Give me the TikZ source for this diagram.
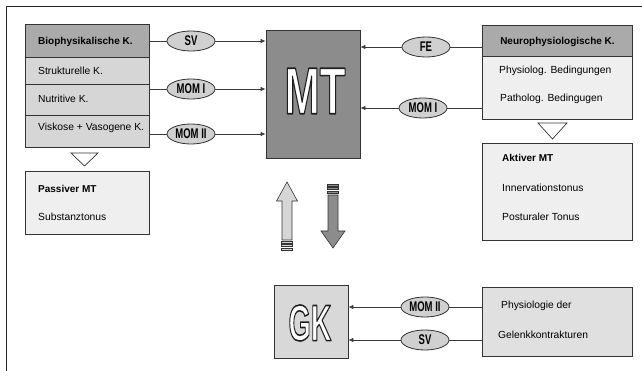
\documentclass[tikz,border=0pt]{standalone}
\usepackage{fontspec}
\usepackage{graphicx}
\setmainfont{Liberation Sans}
\usetikzlibrary{shapes.geometric,arrows.meta,calc}
\definecolor{hdr}{HTML}{AAAAAA}
\definecolor{row}{HTML}{D6D6D6}
\definecolor{mtgray}{HTML}{8C8C8C}
\definecolor{ellg}{HTML}{D0D0D0}
\definecolor{pale}{HTML}{EFEFEF}
\definecolor{gkg}{HTML}{D8D8D8}
\definecolor{edge}{HTML}{333333}
\definecolor{conn}{HTML}{3A3A3A}
\newcommand\outlinedtext[3]{%
  \special{pdf:literal direct 0.12 G 1.6 w 1 j 2 Tr}\scalebox{#1}[1]{\fontsize{#2}{#2}\selectfont\bfseries #3}\special{pdf:literal direct 0 Tr}}
\newcommand\ovtxt[1]{\scalebox{0.68}[1]{\fontsize{14}{14}\selectfont\bfseries #1}}
\begin{document}
\begin{tikzpicture}[x=1pt,y=-1pt,
  box/.style={draw=edge,line width=0.8pt,rectangle,inner sep=0pt},
  lbl/.style={anchor=west,inner sep=0pt,font=\fontsize{10.3}{12}\selectfont},
  blbl/.style={anchor=west,inner sep=0pt,font=\fontsize{10}{12}\selectfont\bfseries},
  oval/.style={draw=edge,line width=0.8pt,ellipse,fill=ellg,minimum width=48pt,minimum height=20pt,inner sep=0pt},
  bigtxt/.style={inner sep=0pt,text=white},
  conn/.style={draw=conn,line width=0.8pt},
  arr/.style={conn,-{Latex[length=5pt,width=4.5pt]}},
  tri/.style={draw=edge,line width=0.7pt,fill=white},
  blk/.style={draw=edge,line width=0.6pt}]
\useasboundingbox (0,0) rectangle (642,371);
% frame
\draw[line width=1pt,black!85] (6.5,380) -- (6.5,7) -- (650,7);

% left stack
\node[box,fill=hdr,minimum width=124pt,minimum height=33pt] (bhead) at (87,40.5) {};
\node[box,fill=row,minimum width=124pt,minimum height=27pt] (brow1) at (87,70.5) {};
\node[box,fill=row,minimum width=124pt,minimum height=31pt] (brow2) at (87,99.5) {};
\node[box,fill=row,minimum width=124pt,minimum height=32pt] (brow3) at (87,131) {};
\node[blbl] (tbio) at (38,42) {Biophysikalische K.};
\node[lbl] (tstr) at (38,71) {Strukturelle K.};
\node[lbl] (tnut) at (38,99) {Nutritive K.};
\node[lbl] (tvis) at (38,128) {Viskose + Vasogene K.};

% passiver
\draw[tri] (71,153) -- (98,153) -- (84.5,166) -- cycle;
\node[box,fill=pale,minimum width=124pt,minimum height=63pt] (pass) at (87,202.5) {};
\node[blbl] (tpass) at (38,189) {Passiver MT};
\node[lbl] (tsub) at (38,217) {Substanztonus};

% MT
\node[box,fill=mtgray,minimum width=94pt,minimum height=128pt] (mt) at (313,94) {};
\node[bigtxt] (mttxt) at (315,91) {\outlinedtext{0.64}{66}{MT}};

% left ovals
\node[oval] (sv1) at (191,41) {\ovtxt{SV}};
\node[oval] (mom1) at (191,89) {\ovtxt{MOM I}};
\node[oval] (mom2) at (191,134) {\ovtxt{MOM II}};
\draw[conn] (bhead.east |- sv1) -- (sv1);
\draw[arr] (sv1) -- (mt.west |- sv1);
\draw[conn] (brow2.east |- mom1) -- (mom1);
\draw[arr] (mom1) -- (mt.west |- mom1);
\draw[conn] (brow3.east |- mom2) -- (mom2);
\draw[arr] (mom2) -- (mt.west |- mom2);

% right neuro
\node[box,fill=hdr,minimum width=150pt,minimum height=31pt] (nhead) at (557,40.5) {};
\node[box,fill=pale,minimum width=150pt,minimum height=63pt] (nbody) at (557,87.5) {};
\node[inner sep=0pt,font=\fontsize{10}{12}\selectfont\bfseries] (tneu) at (557.5,42) {Neurophysiologische K.};
\node[lbl] (tphy) at (499,71) {Physiolog. Bedingungen};
\node[lbl] (tpat) at (500,99) {Patholog. Bedingugen};
\node[oval] (fe) at (426,47) {\ovtxt{FE}};
\node[oval] (mom1r) at (423,108) {\ovtxt{MOM I}};
\draw[conn] (nhead.west |- fe) -- (fe);
\draw[arr] (fe) -- (mt.east |- fe);
\draw[conn] (nbody.west |- mom1r) -- (mom1r);
\draw[arr] (mom1r) -- (mt.east |- mom1r);

% aktiver
\draw[tri] (538,123) -- (567,123) -- (552.5,139) -- cycle;
\node[box,fill=pale,minimum width=150pt,minimum height=97pt] (akt) at (557,191.5) {};
\node[blbl] (takt) at (502,158) {Aktiver MT};
\node[lbl] (tinn) at (502,188) {Innervationstonus};
\node[lbl] (tpos) at (502,217) {Posturaler Tonus};

% block arrows
\draw[blk,fill=row] (287,182) -- (297.5,201) -- (292,201) -- (292,240) -- (282,240) -- (282,201) -- (276.5,201) -- cycle;
\foreach \y in {241,244.5,248}{\draw[blk,fill=row] (281.5,\y) rectangle (292.5,\y+2.2);}
\draw[blk,fill=mtgray] (333,248) -- (345,231) -- (338,231) -- (338,195) -- (328,195) -- (328,231) -- (321,231) -- cycle;
\foreach \y in {184,187.5,191}{\draw[blk,fill=mtgray] (327.5,\y) rectangle (338.5,\y+2.2);}

% GK
\node[box,fill=gkg,minimum width=74pt,minimum height=73pt] (gk) at (311,321.5) {};
\node[bigtxt] (gktxt) at (310,323) {\outlinedtext{0.56}{51}{GK}};
\node[box,fill=gkg!80!white,minimum width=150pt,minimum height=69pt] (phys) at (557,321.5) {};
\node[lbl] (tphd) at (501,306) {Physiologie der};
\node[lbl] (tgel) at (498,335) {Gelenkkontrakturen};
\node[oval] (mom2g) at (425,307) {\ovtxt{MOM II}};
\node[oval] (svg) at (425,340) {\ovtxt{SV}};
\draw[conn] (phys.west |- mom2g) -- (mom2g);
\draw[arr] (mom2g) -- (gk.east |- mom2g);
\draw[conn] (phys.west |- svg) -- (svg);
\draw[arr] (svg) -- (gk.east |- svg);
\end{tikzpicture}
\end{document}
